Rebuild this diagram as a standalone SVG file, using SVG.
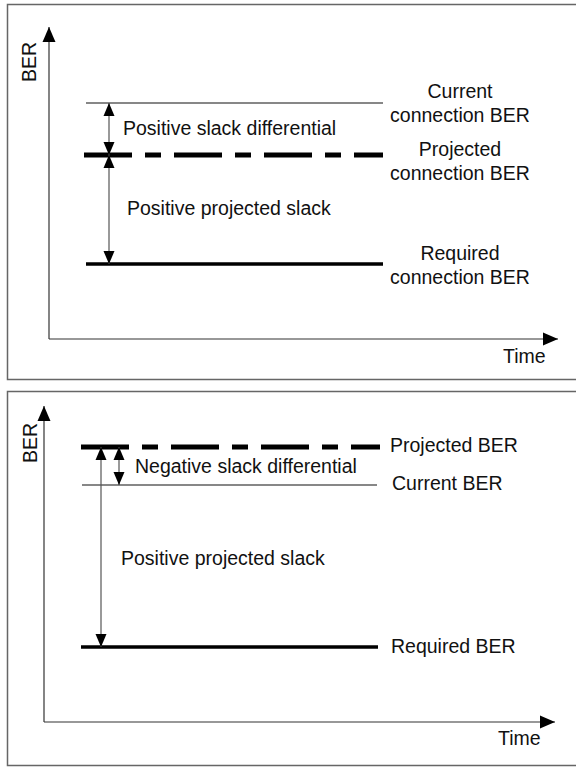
<svg xmlns="http://www.w3.org/2000/svg" width="576" height="767" viewBox="0 0 576 767">
  <style>
    .frame { fill: none; stroke: #666; stroke-width: 1.5; }
    .axis { fill: none; stroke: #333; stroke-width: 1.2; }
    .thin { fill: none; stroke: #111; stroke-width: 1.2; }
    .dash { fill: none; stroke: #000; stroke-width: 5; stroke-dasharray: 48 13 16 13; }
    .solid { fill: none; stroke: #000; stroke-width: 3.5; }
    .dim { fill: none; stroke: #555; stroke-width: 1.2; }
    text { font-family: "Liberation Sans", Arial, sans-serif; font-size: 19.5px; fill: #111; }
    .mid { text-anchor: middle; }
  </style>
  <defs>
    <marker id="axisHead" markerUnits="userSpaceOnUse" markerWidth="16" markerHeight="16" viewBox="0 0 16 16" refX="15" refY="8" orient="auto">
      <path d="M0,1.5 L15,8 L0,14.5 Z" fill="#000"/>
    </marker>
    <marker id="dimHead" markerUnits="userSpaceOnUse" markerWidth="14" markerHeight="14" viewBox="0 0 14 14" refX="13" refY="7" orient="auto-start-reverse">
      <path d="M0,1.5 L13,7 L0,12.5 Z" fill="#000"/>
    </marker>
  </defs>

  <!-- Upper chart: positive slack differential -->
  <g id="chart-positive">
    <path class="frame" d="M577,4.5 H7.5 V379.5 H577"/>
    <g id="axes-top">
      <path class="axis" d="M49,339 V27" marker-end="url(#axisHead)"/>
      <path class="axis" d="M49,339 H558" marker-end="url(#axisHead)"/>
      <text transform="translate(36,62) rotate(-90)" class="mid">BER</text>
      <text x="503" y="363">Time</text>
    </g>
    <g id="current-top">
      <path class="thin" d="M86,103 H383"/>
      <text x="460" y="98" class="mid">Current</text>
      <text x="460" y="122" class="mid">connection BER</text>
    </g>
    <g id="projected-top">
      <path class="dash" d="M84,155 H383"/>
      <text x="460" y="156" class="mid">Projected</text>
      <text x="460" y="180" class="mid">connection BER</text>
    </g>
    <g id="required-top">
      <path class="solid" d="M86,264 H383"/>
      <text x="460" y="260" class="mid">Required</text>
      <text x="460" y="284" class="mid">connection BER</text>
    </g>
    <g id="connectors-top">
      <path class="dim" d="M109,103 V155" marker-start="url(#dimHead)" marker-end="url(#dimHead)"/>
      <path class="dim" d="M109,155 V264" marker-start="url(#dimHead)" marker-end="url(#dimHead)"/>
    </g>
    <text x="123" y="135">Positive slack differential</text>
    <text x="127" y="215">Positive projected slack</text>
  </g>

  <!-- Lower chart: negative slack differential -->
  <g id="chart-negative">
    <path class="frame" d="M577,391.5 H7.5 V765.5 H577"/>
    <g id="axes-bottom">
      <path class="axis" d="M44,722 V406" marker-end="url(#axisHead)"/>
      <path class="axis" d="M44,722 H555" marker-end="url(#axisHead)"/>
      <text transform="translate(37,443) rotate(-90)" class="mid">BER</text>
      <text x="498" y="745">Time</text>
    </g>
    <g id="projected-bottom">
      <path class="dash" d="M81,447 H380"/>
      <text x="390" y="452">Projected BER</text>
    </g>
    <g id="current-bottom">
      <path class="thin" d="M82,485 H377"/>
      <text x="392" y="490">Current BER</text>
    </g>
    <g id="required-bottom">
      <path class="solid" d="M81,647 H378"/>
      <text x="391" y="653">Required BER</text>
    </g>
    <g id="connectors-bottom">
      <path class="dim" d="M119,447 V485" marker-start="url(#dimHead)" marker-end="url(#dimHead)"/>
      <path class="dim" d="M101,447 V647" marker-start="url(#dimHead)" marker-end="url(#dimHead)"/>
    </g>
    <text x="135" y="473">Negative slack differential</text>
    <text x="121" y="565">Positive projected slack</text>
  </g>
</svg>
